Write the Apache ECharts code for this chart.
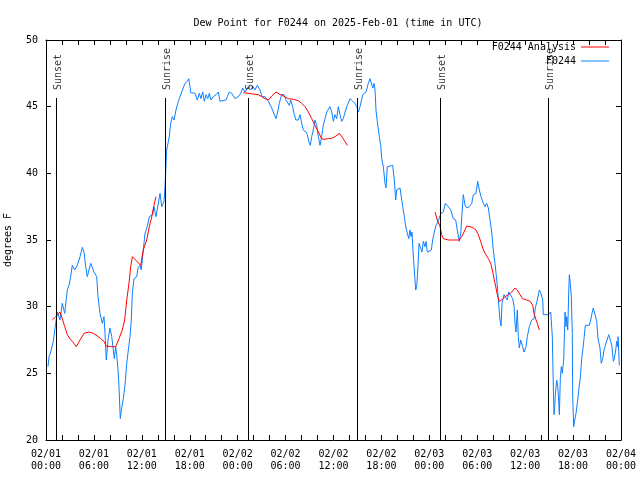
<!DOCTYPE html>
<html>
<head>
<meta charset="utf-8">
<script src="https://cdn.jsdelivr.net/npm/echarts@6/dist/echarts.min.js"></script>
<style>html,body{margin:0;padding:0;background:#fff}#c{width:640px;height:480px}</style>
</head>
<body>
<div id="c"></div>
<script>
// hours since 2025-02-01 00:00 UTC
var obsHours = [0.25,0.38,0.59,0.91,1.21,1.42,1.75,2.04,2.34,2.67,2.88,3.09,3.29,3.59,3.92,4.26,4.55,4.76,4.97,5.17,5.38,5.60,5.80,6.01,6.35,6.51,6.76,7.05,7.26,7.39,7.55,7.76,8.01,8.23,8.43,8.55,8.73,8.85,9.02,9.14,9.30,9.48,9.68,9.89,10.11,10.31,10.52,10.68,10.81,11.02,11.36,11.52,11.77,11.93,12.18,12.40,12.68,12.94,13.36,13.52,13.77,14.06,14.28,14.49,14.78,14.90,15.03,15.11,15.44,15.61,15.82,16.03,16.28,16.57,16.78,16.99,17.41,17.69,17.87,18.03,18.12,18.66,18.95,19.20,19.41,19.62,19.82,20.04,20.25,20.45,20.66,20.95,21.29,21.58,21.79,22.00,22.54,22.70,22.95,23.25,23.67,24.08,24.38,24.63,24.92,25.33,25.63,25.88,26.17,26.46,26.80,27.05,27.42,27.84,28.26,28.46,28.80,29.01,29.21,29.51,29.80,30.05,30.27,30.47,30.64,30.89,31.05,31.30,31.59,31.81,32.02,32.22,32.56,32.72,32.90,33.10,33.27,33.47,33.68,33.90,34.10,34.31,34.52,34.72,34.94,35.15,35.35,35.56,35.78,35.98,36.19,36.40,36.60,36.81,37.03,37.23,37.44,37.73,38.07,38.41,38.69,38.91,39.11,39.32,39.66,39.82,40.07,40.36,40.57,40.78,40.91,41.07,41.20,41.32,41.48,41.74,41.91,42.04,42.24,42.45,42.57,42.74,42.86,43.41,43.61,43.79,43.91,44.33,44.54,44.67,44.87,45.08,45.24,45.42,45.58,45.71,45.83,45.96,46.12,46.29,46.42,46.54,46.71,46.92,47.08,47.25,47.46,47.58,47.75,48.00,48.25,48.42,48.59,48.84,49.09,49.34,49.46,49.75,50.00,50.38,50.68,51.00,51.30,51.50,51.75,51.93,52.09,52.25,52.47,52.68,53.01,53.31,53.51,53.84,54.06,54.26,54.47,54.76,54.97,55.18,55.39,55.60,55.81,56.01,56.22,56.44,56.56,56.69,56.85,56.98,57.10,57.35,57.60,57.77,57.94,58.19,58.44,58.61,58.73,58.85,59.02,59.14,59.27,59.44,59.69,59.85,60.11,60.27,60.52,60.82,61.11,61.27,61.52,61.77,61.98,62.20,62.27,62.90,63.02,63.20,63.32,63.40,63.53,63.61,63.70,63.78,63.95,64.08,64.20,64.28,64.40,64.53,64.65,64.83,64.99,65.11,65.20,65.33,65.45,65.53,65.65,65.78,65.90,65.95,66.08,66.20,66.37,66.58,66.74,66.90,67.08,67.24,67.37,67.53,68.03,68.21,68.37,68.53,68.78,68.96,69.12,69.37,69.53,69.71,69.87,70.04,70.29,70.46,70.59,70.71,70.87,71.04,71.16,71.34,71.46,71.59,71.63,71.72,71.79];
var obsValues = [25.5,26.25,26.6,27.4,28.75,29.6,29.0,30.25,29.5,31.25,31.6,32.25,33.1,32.75,33.1,33.75,34.45,34.1,33.0,32.25,32.75,33.25,33.4,32.6,32.25,30.75,29.5,28.75,29.25,28.0,26.0,27.5,28.4,27.75,26.75,26.1,27.0,26.4,25.25,24.0,21.6,22.4,23.1,24.1,25.75,26.75,27.75,29.0,31.0,32.1,32.25,32.9,33.1,32.75,34.25,35.5,36.0,36.75,36.9,37.5,36.75,37.75,38.5,37.5,37.9,39.0,40.75,41.75,42.75,43.75,44.25,44.0,44.75,45.4,45.25,46.1,46.75,46.9,47.1,46.5,46.05,46.0,45.5,46.0,45.6,46.1,45.4,45.9,45.6,46.0,45.5,45.75,45.9,46.1,45.4,45.5,45.5,45.75,46.1,46.0,45.6,45.75,46.0,46.4,46.1,46.5,46.25,46.55,46.25,46.6,46.25,45.75,45.75,45.4,44.9,44.6,44.1,44.6,45.25,45.9,45.9,45.5,45.6,45.1,45.5,45.0,44.5,44.0,44.0,44.4,43.75,43.25,43.1,42.9,42.4,42.1,42.75,43.25,44.0,43.6,42.75,42.1,42.75,43.6,44.1,44.6,44.5,45.0,44.6,43.9,44.4,44.1,45.0,44.4,43.9,44.1,44.6,45.1,45.6,45.4,45.25,45.0,44.6,45.0,45.9,45.75,46.1,46.75,47.1,47.0,46.4,46.75,46.25,44.75,43.9,42.75,42.1,41.1,40.5,39.25,38.9,40.5,40.6,40.6,39.5,38.0,38.75,38.9,38.75,37.5,36.75,35.9,35.75,35.1,35.75,35.25,35.6,34.1,32.75,31.25,31.5,32.6,34.75,34.9,34.1,34.9,34.5,34.9,34.1,34.25,34.25,35.0,35.5,36.1,36.4,36.25,37.0,37.1,37.75,37.5,37.25,36.6,36.5,35.75,34.9,35.5,37.0,38.4,37.6,37.4,37.5,37.75,38.4,38.5,39.4,38.75,38.25,37.75,37.5,37.75,37.4,36.5,35.6,34.25,33.25,32.0,31.25,30.1,29.0,28.55,30.25,30.9,30.75,30.5,31.1,31.0,30.6,30.0,28.75,28.1,29.75,27.75,26.9,27.5,27.0,26.6,27.0,27.75,28.5,29.0,29.1,29.9,30.5,31.25,31.0,30.5,29.4,29.4,29.25,29.6,29.75,27.75,23.9,21.9,22.5,23.4,24.5,24.0,22.9,21.9,24.6,25.5,25.0,26.1,29.6,28.5,29.25,28.25,31.0,32.4,31.75,30.75,28.0,23.25,21.0,21.5,22.0,23.0,23.9,24.6,26.1,26.9,27.6,28.6,28.6,29.0,29.5,29.9,29.9,28.9,27.6,26.9,25.75,26.1,26.75,27.1,27.25,27.9,28.0,27.4,27.0,25.9,26.1,26.75,27.4,27.0,27.75,26.6,25.6];

var anaHours = [0.79,1.21,1.75,2.04,2.34,2.67,3.09,3.51,3.79,4.26,4.76,5.38,5.92,6.42,6.85,7.26,7.55,8.10,8.73,9.14,9.55,9.85,10.11,10.39,10.61,10.81,11.86,12.18,12.61,12.94,13.24,13.52,13.77,19.0,24.71,25.33,25.96,26.58,27.01,27.42,27.84,28.26,28.80,29.21,29.71,30.34,30.97,31.59,32.02,32.43,32.85,33.27,33.68,34.10,34.52,34.81,35.35,35.90,36.31,36.73,37.03,37.32,37.73,43.0,48.71,49.00,49.34,49.55,49.75,50.38,51.00,51.75,52.05,52.34,52.68,53.09,53.51,53.84,54.13,54.43,54.68,54.97,55.39,55.69,55.94,56.14,56.35,56.51,56.73,57.06,57.48,57.89,58.32,58.73,59.02,59.35,59.69,60.19,60.61,60.94,61.11,61.36,61.52,61.77];
var anaValues = [29.0,29.25,29.6,29.1,28.5,27.9,27.5,27.25,27.0,27.5,28.0,28.1,28.0,27.8,27.6,27.4,27.05,27.0,27.0,27.6,28.25,29.0,30.5,31.75,33.0,33.75,33.1,34.25,35.0,36.0,36.75,37.6,38.25,null,46.05,46.0,45.95,45.9,45.75,45.6,45.5,45.8,46.1,45.95,45.8,45.6,45.55,45.45,45.25,45.0,44.6,44.1,43.6,43.1,42.6,42.55,42.6,42.65,42.8,43.0,42.75,42.5,42.1,null,37.1,36.5,36.0,35.4,35.1,35.0,35.0,35.0,35.25,35.6,36.05,36.0,35.9,35.75,35.4,34.9,34.4,34.0,33.6,33.25,32.6,32.0,31.4,30.9,30.4,30.5,30.75,30.9,31.1,31.4,31.25,30.9,30.6,30.5,30.4,30.1,29.5,29.0,28.75,28.25];

var sunHours = [1.25, 14.94, 25.33, 38.98, 49.34, 62.90];
var sunNames = ['Sunset', 'Sunrise', 'Sunset', 'Sunrise', 'Sunset', 'Sunrise'];
var sunLineTop = 45.65;
var sunLabelBase = 46.1;

var titleText = 'Dew Point for F0244 on 2025-Feb-01 (time in UTC)';
var yTitle = 'degrees F';
var seriesNames = ['F0244 Analysis', 'F0244'];
var dayLabels = ['02/01', '02/02', '02/03', '02/04'];

var FONT = 'DejaVu Sans Mono';
var RED = '#ff0000', BLUE = '#0d80ff';

function pair(h, v) { return h.map(function (x, i) { return [x, v[i]]; }); }
function pad(n) { return (n < 10 ? '0' : '') + n; }

var chart = echarts.init(document.getElementById('c'), null, { renderer: 'canvas' });

var xCommon = {
  type: 'value', min: 0, max: 72, interval: 6,
  axisLine: { show: true, onZero: false, lineStyle: { color: '#000', width: 1 } },
  axisTick: { show: true, inside: true, length: 5, lineStyle: { color: '#000' } },
  minorTick: { show: true, splitNumber: 3, length: 5, lineStyle: { color: '#000' } },
  splitLine: { show: false }
};
var yCommon = {
  type: 'value', min: 20, max: 50, interval: 5,
  axisLine: { show: true, onZero: false, lineStyle: { color: '#000', width: 1 } },
  axisTick: { show: true, inside: true, length: 5, lineStyle: { color: '#000' } },
  splitLine: { show: false }
};

var sunLines = sunHours.map(function (h) { return [{ coord: [h, 20] }, { coord: [h, sunLineTop] }]; });

chart.setOption({
  animation: false,
  backgroundColor: '#fff',
  textStyle: { fontFamily: FONT },
  title: {
    text: titleText, left: 333, top: 13, textAlign: 'center',
    textStyle: { fontFamily: FONT, fontSize: 10, fontWeight: 'normal', color: '#000' }
  },
  grid: { left: 46, right: 19, top: 40, bottom: 40, containLabel: false, outerBoundsMode: 'none' },
  legend: [
    { data: [seriesNames[0]], right: 31, top: 42, align: 'right', icon: 'rect', itemWidth: 28, itemHeight: 1, itemGap: 0, padding: 0,
      textStyle: { fontFamily: FONT, fontSize: 10, color: '#000' } },
    { data: [seriesNames[1]], right: 31, top: 56, align: 'right', icon: 'rect', itemWidth: 28, itemHeight: 1, itemGap: 0, padding: 0,
      textStyle: { fontFamily: FONT, fontSize: 10, color: '#000' } }
  ],
  xAxis: [
    Object.assign({}, xCommon, {
      position: 'bottom',
      axisLabel: {
        show: true, margin: 8, fontFamily: FONT, fontSize: 10, color: '#000', lineHeight: 12,
        formatter: function (v) {
          var d = Math.floor(v / 24), hh = Math.round(v - d * 24);
          return dayLabels[d] + '\n' + pad(hh) + ':00';
        }
      }
    }),
    Object.assign({}, xCommon, { position: 'top', axisLabel: { show: false } })
  ],
  yAxis: [
    Object.assign({}, yCommon, {
      position: 'left',
      name: yTitle, nameLocation: 'middle', nameGap: 33, nameRotate: 90,
      nameTextStyle: { fontFamily: FONT, fontSize: 10, color: '#000' },
      axisLabel: { show: true, margin: 8, fontFamily: FONT, fontSize: 10, color: '#000' }
    }),
    Object.assign({}, yCommon, { position: 'right', axisLabel: { show: false } })
  ],
  series: [
    {
      name: seriesNames[0], type: 'line', data: pair(anaHours, anaValues),
      showSymbol: false, symbol: 'none', connectNulls: false,
      lineStyle: { color: RED, width: 1 }, itemStyle: { color: RED }, z: 3
    },
    {
      name: seriesNames[1], type: 'line', data: pair(obsHours, obsValues),
      showSymbol: false, symbol: 'none',
      lineStyle: { color: BLUE, width: 1 }, itemStyle: { color: BLUE }, z: 2,
      markLine: {
        silent: true, symbol: ['none', 'none'], animation: false,
        label: { show: false },
        lineStyle: { color: '#000', width: 1, type: 'solid' },
        data: sunLines
      }
    },
    {
      name: 'sun', type: 'scatter', symbolSize: 0, silent: true,
      data: sunHours.map(function (h, i) { return [h, sunLabelBase, sunNames[i]]; }),
      label: {
        show: true, position: 'inside', rotate: 90, align: 'left', verticalAlign: 'middle',
        offset: [2, 2],
        formatter: function (p) { return p.data[2]; },
        fontFamily: FONT, fontSize: 10, color: '#000'
      },
      z: 4
    }
  ]
});
</script>
</body>
</html>
